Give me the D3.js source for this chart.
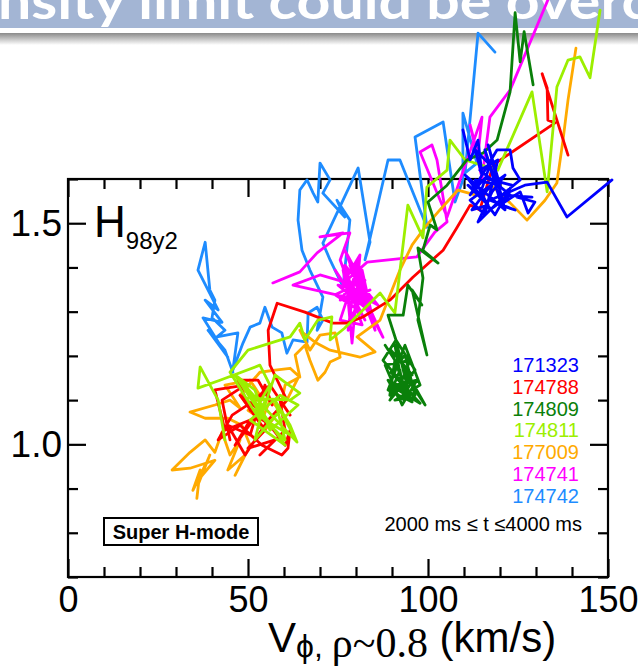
<!DOCTYPE html>
<html>
<head>
<meta charset="utf-8">
<script src="https://cdn.jsdelivr.net/npm/d3@7"></script>
<style>
  html, body { margin: 0; padding: 0; background: #fff; }
  svg { display: block; }
</style>
</head>
<body>
<svg id="chart" width="638" height="672"></svg>
<script>
// ---- data: toroidal rotation (km/s) vs H98y2 confinement factor, per shot ----
const xTickValues = [0, 50, 100, 150];
const yTickValues = [1.0, 1.5];
const shots = ["171323", "174788", "174809", "174811", "177009", "174741", "174742"];
const shotColors = ["#0000ff", "#ff0000", "#0a800a", "#9cef00", "#ffaa00", "#ff00ff", "#1e8cff"];

const s177009 = [[35.8,0.878],[36.7,0.942],[34.7,0.896],[38.1,0.953],[36.1,0.908],[39.4,0.976],[36.7,0.924],[40.8,0.964],[33.9,0.946],[28.9,0.942],[33.9,0.982],[38.1,1.010],[40.8,0.982],[42.8,1.028],[45.0,0.976],[47.8,1.010],[44.4,0.942],[49.2,0.976],[46.4,0.930],[50.6,0.998],[48.3,1.043],[44.4,1.059],[38.1,1.059],[33.9,1.073],[40.8,1.089],[45.0,1.100],[47.8,1.082],[43.6,1.134],[50.6,1.145],[53.3,1.111],[50.0,1.077],[53.9,1.055],[56.1,1.100],[58.9,1.077],[60.3,1.134],[63.9,1.150],[60.8,1.100],[54.7,1.032],[51.9,1.066],[47.8,1.111],[53.3,1.163],[57.5,1.168],[61.7,1.172],[64.4,1.152],[63.1,1.202],[65.8,1.224],[67.2,1.190],[69.4,1.145],[71.4,1.163],[72.8,1.186],[75.6,1.197],[74.2,1.252],[70.0,1.247],[67.2,1.213],[64.4,1.258],[68.6,1.231],[72.8,1.213],[81.1,1.197],[85.3,1.209],[80.3,1.243],[86.7,1.281],[92.2,1.394],[95.6,1.451],[99.2,1.491],[103.3,1.530],[108.3,1.575],[113.1,1.564],[118.1,1.582],[122.8,1.546],[127.5,1.507],[132.5,1.552],[135.8,1.591],[137.5,1.688],[138.9,1.779],[141.1,1.896]];

const s174788 = [[45.0,1.010],[42.8,1.100],[49.2,1.134],[40.8,1.123],[43.6,1.032],[50.6,1.055],[46.4,0.998],[53.3,1.077],[47.8,1.111],[54.7,1.032],[50.0,0.991],[57.5,1.010],[53.3,0.976],[60.3,1.032],[58.9,1.100],[61.7,1.066],[56.1,1.134],[51.9,1.100],[45.6,1.066],[41.7,1.010],[47.8,1.043],[53.9,0.998],[59.4,0.976],[61.1,0.991],[61.7,1.032],[60.3,0.998],[56.1,1.043],[50.6,1.077],[47.2,1.145],[52.8,1.145],[56.7,1.089],[54.7,1.134],[50.6,1.021],[44.4,1.043],[49.2,0.976],[55.6,1.055],[60.8,1.100],[56.1,1.179],[55.6,1.258],[58.1,1.319],[65.8,1.299],[73.6,1.274],[77.5,1.274],[81.9,1.288],[89.4,1.326],[95.8,1.378],[104.2,1.439],[108.1,1.491],[111.7,1.541],[114.4,1.530],[118.1,1.632],[135.3,1.727],[133.3,1.733],[133.1,1.806],[131.7,1.838],[138.9,1.654]];

const s174811 = [[43.6,1.010],[41.7,1.100],[36.7,1.175],[36.1,1.127],[42.2,1.145],[53.3,1.179],[56.1,1.134],[51.9,1.077],[60.3,1.010],[57.5,1.100],[61.7,1.043],[63.6,1.005],[53.9,1.089],[47.8,1.145],[60.3,0.998],[50.6,1.055],[58.9,1.111],[63.9,1.089],[56.1,1.032],[51.9,1.123],[46.4,1.157],[54.7,1.055],[63.1,1.014],[58.9,1.077],[51.9,1.010],[54.7,1.100],[50.0,1.105],[61.7,1.100],[64.4,1.116],[57.5,1.157],[53.3,1.055],[45.0,1.163],[50.0,1.213],[61.7,1.243],[64.4,1.274],[65.8,1.236],[69.4,1.281],[73.3,1.288],[72.8,1.236],[76.9,1.263],[86.7,1.342],[90.8,1.297],[94.4,1.541],[98.6,1.467],[99.7,1.582],[105.3,1.620],[106.1,1.688],[110.3,1.643],[119.4,1.620],[128.9,1.797],[133.1,1.571],[135.8,1.808],[138.9,1.869],[142.2,1.876],[145.0,1.829],[147.8,1.982]];

const s174809 = [[88.1,1.224],[90.8,1.190],[89.4,1.111],[92.2,1.168],[93.6,1.100],[90.8,1.224],[95.0,1.134],[92.2,1.100],[88.9,1.145],[96.4,1.111],[93.6,1.202],[89.7,1.163],[97.8,1.093],[91.7,1.123],[95.0,1.190],[88.1,1.179],[92.8,1.089],[96.9,1.145],[90.8,1.134],[94.4,1.111],[89.7,1.213],[95.6,1.157],[92.2,1.190],[99.2,1.089],[93.6,1.157],[89.4,1.100],[96.4,1.168],[91.1,1.236],[95.0,1.105],[90.8,1.100],[97.8,1.134],[93.6,1.224],[88.9,1.123],[95.6,1.096],[92.2,1.145],[87.5,1.190],[91.1,1.236],[88.9,1.292],[93.1,1.292],[94.4,1.360],[98.3,1.315],[95.6,1.349],[99.7,1.202],[97.2,1.281],[98.6,1.376],[97.2,1.444],[102.8,1.410],[98.6,1.439],[100.6,1.496],[102.5,1.485],[100.0,1.548],[105.3,1.586],[110.8,1.643],[115.3,1.659],[119.2,1.688],[122.8,1.797],[124.2,1.976],[125.6,1.865],[126.7,1.933],[129.2,1.813]];

const s174741 = [[56.9,1.365],[64.4,1.390],[69.2,1.433],[76.4,1.478],[70.0,1.469],[78.3,1.478],[75.6,1.417],[79.7,1.326],[74.2,1.394],[82.5,1.281],[76.9,1.371],[81.1,1.428],[78.9,1.229],[77.8,1.326],[83.9,1.349],[75.6,1.326],[81.7,1.394],[85.3,1.258],[78.3,1.405],[87.5,1.242],[80.6,1.349],[75.0,1.360],[83.3,1.304],[76.9,1.439],[84.4,1.326],[79.7,1.383],[75.6,1.281],[81.7,1.270],[78.3,1.349],[86.1,1.315],[76.9,1.405],[80.6,1.304],[74.2,1.338],[82.5,1.371],[78.9,1.286],[76.4,1.394],[83.9,1.292],[80.3,1.417],[77.8,1.258],[81.1,1.326],[62.5,1.360],[70.0,1.383],[76.9,1.367],[83.1,1.412],[96.9,1.424],[101.9,1.480],[105.3,1.503],[102.5,1.643],[101.1,1.677],[97.8,1.661],[105.3,1.514],[115.0,1.740],[113.9,1.654],[111.7,1.722],[115.0,1.602],[117.2,1.740],[122.8,1.801],[133.3,2.005]];

const s174742 = [[45.8,1.163],[43.6,1.213],[38.9,1.258],[44.4,1.197],[37.5,1.286],[42.8,1.276],[38.1,1.326],[41.7,1.304],[36.1,1.394],[38.1,1.457],[39.4,1.349],[40.8,1.326],[40.0,1.286],[43.6,1.258],[41.4,1.243],[47.2,1.252],[45.8,1.168],[48.6,1.229],[50.6,1.265],[53.3,1.274],[54.7,1.310],[56.7,1.265],[59.4,1.252],[60.8,1.206],[62.5,1.236],[66.4,1.231],[66.7,1.297],[69.2,1.310],[70.8,1.281],[69.2,1.258],[70.8,1.333],[67.2,1.394],[65.0,1.439],[63.9,1.507],[64.4,1.575],[66.4,1.598],[68.1,1.568],[69.4,1.548],[70.0,1.636],[72.8,1.598],[70.8,1.568],[76.9,1.514],[74.7,1.552],[78.3,1.507],[76.4,1.356],[72.8,1.417],[70.8,1.455],[80.6,1.625],[83.9,1.457],[82.5,1.417],[88.9,1.643],[92.2,1.643],[99.7,1.491],[96.4,1.695],[104.2,1.729],[107.5,1.548],[109.7,1.598],[109.7,1.749],[113.6,1.636],[110.3,1.614],[113.9,1.930],[118.6,1.887]];

const s171323 = [[109.7,1.711],[111.7,1.643],[113.9,1.688],[115.0,1.609],[113.1,1.666],[117.2,1.632],[114.4,1.564],[111.1,1.586],[116.7,1.541],[112.2,1.530],[118.6,1.598],[115.8,1.666],[120.0,1.552],[113.9,1.503],[117.8,1.571],[121.4,1.609],[111.7,1.552],[115.8,1.519],[119.4,1.643],[114.4,1.620],[122.8,1.564],[117.2,1.530],[113.1,1.598],[120.0,1.586],[116.7,1.677],[121.4,1.530],[115.0,1.575],[110.3,1.609],[118.6,1.519],[123.3,1.586],[115.8,1.602],[111.7,1.564],[119.2,1.666],[122.8,1.666],[123.6,1.625],[125.6,1.598],[120.6,1.564],[128.9,1.559],[124.7,1.559],[129.7,1.548],[127.8,1.523],[125.6,1.571],[120.0,1.541],[124.2,1.530],[117.2,1.552],[126.9,1.586],[133.1,1.593],[138.6,1.514],[151.1,1.598]];

// drawing order (back to front)
const drawOrder = [
  { id: "174742", pts: s174742 },
  { id: "174741", pts: s174741 },
  { id: "177009", pts: s177009 },
  { id: "174788", pts: s174788 },
  { id: "174811", pts: s174811 },
  { id: "174809", pts: s174809 },
  { id: "171323", pts: s171323 }
];

// ---- layout ----
const svg = d3.select("#chart");
const W = 638, H = 672;
const box = { left: 68, right: 608, top: 179, bottom: 577 };

const x = d3.scaleLinear().domain([0, 150]).range([box.left, box.right]);
const y = d3.scaleLinear().domain([0.7, 1.6]).range([box.bottom, box.top]);
const color = d3.scaleOrdinal().domain(shots).range(shotColors);

// slide title banner
const shadow = svg.append("defs").append("linearGradient")
  .attr("id", "shade").attr("x1", 0).attr("y1", 0).attr("x2", 0).attr("y2", 1);
shadow.append("stop").attr("offset", "0%").attr("stop-color", "#8a8a8a");
shadow.append("stop").attr("offset", "100%").attr("stop-color", "#ffffff");
svg.append("rect").attr("x", 0).attr("y", 0).attr("width", W).attr("height", 28).attr("fill", "#a3b5d4");
svg.append("rect").attr("x", 0).attr("y", 33).attr("width", W).attr("height", 12).attr("fill", "url(#shade)");
svg.append("text")
  .attr("x", -2).attr("y", 19)
  .attr("textLength", 652).attr("lengthAdjust", "spacingAndGlyphs")
  .attr("font-family", "Lato, 'Open Sans', sans-serif").attr("font-weight", 700)
  .attr("font-size", 50).attr("fill", "#ffffff")
  .text("nsity limit could be overc");

// frame
svg.append("rect")
  .attr("x", box.left).attr("y", box.top)
  .attr("width", box.right - box.left).attr("height", box.bottom - box.top)
  .attr("fill", "none").attr("stroke", "#000").attr("stroke-width", 2.2);

const minorX = d3.range(0, 151, 10).filter(v => v % 50 !== 0);
const minorY = d3.range(0.7, 1.6001, 0.1).map(v => +v.toFixed(1)).filter(v => v !== 1.0 && v !== 1.5);

function styleAxis(g) {
  g.select(".domain").remove();
  g.selectAll(".tick line").attr("stroke", "#000").attr("stroke-width", 2.2);
  g.selectAll(".tick text").attr("fill", "#000")
    .attr("font-family", "'Liberation Sans', Arial, Helvetica, sans-serif");
}

// bottom
svg.append("g").attr("transform", `translate(0,${box.bottom})`)
  .call(d3.axisBottom(x).tickValues(xTickValues).tickSize(-18).tickPadding(9).tickFormat(d3.format("d")))
  .call(styleAxis).call(g => g.selectAll("text").attr("font-size", 36));
svg.append("g").attr("transform", `translate(0,${box.bottom})`)
  .call(d3.axisBottom(x).tickValues(minorX).tickSize(-10).tickFormat(""))
  .call(styleAxis);
// top
svg.append("g").attr("transform", `translate(0,${box.top})`)
  .call(d3.axisTop(x).tickValues(xTickValues).tickSize(-18).tickFormat(""))
  .call(styleAxis);
svg.append("g").attr("transform", `translate(0,${box.top})`)
  .call(d3.axisTop(x).tickValues(minorX).tickSize(-10).tickFormat(""))
  .call(styleAxis);
// left
svg.append("g").attr("transform", `translate(${box.left},0)`)
  .call(d3.axisLeft(y).tickValues(yTickValues).tickSize(-18).tickPadding(6).tickFormat(d3.format(".1f")))
  .call(styleAxis).call(g => g.selectAll("text").attr("font-size", 37));
svg.append("g").attr("transform", `translate(${box.left},0)`)
  .call(d3.axisLeft(y).tickValues(minorY).tickSize(-10).tickFormat(""))
  .call(styleAxis);
// right
svg.append("g").attr("transform", `translate(${box.right},0)`)
  .call(d3.axisRight(y).tickValues(yTickValues).tickSize(-18).tickFormat(""))
  .call(styleAxis);
svg.append("g").attr("transform", `translate(${box.right},0)`)
  .call(d3.axisRight(y).tickValues(minorY).tickSize(-10).tickFormat(""))
  .call(styleAxis);

// H98y2 label
const hl = svg.append("text").attr("x", 94).attr("y", 237)
  .attr("font-family", "'Liberation Sans', Arial, sans-serif").attr("fill", "#000");
hl.append("tspan").attr("font-size", 44).text("H");
hl.append("tspan").attr("font-size", 24).attr("dy", 12).text("98y2");

// trajectories
const line = d3.line().x(d => x(d[0])).y(d => y(d[1]));
svg.append("g").selectAll("path")
  .data(drawOrder).join("path")
  .attr("d", d => line(d.pts))
  .attr("fill", "none")
  .attr("stroke", d => color(d.id))
  .attr("stroke-width", 2.8)
  .attr("stroke-linejoin", "round")
  .attr("stroke-linecap", "round");

// legend
svg.append("g").selectAll("text")
  .data(shots).join("text")
  .attr("x", 579).attr("y", (d, i) => 372 + i * 21.8)
  .attr("text-anchor", "end")
  .attr("font-family", "'Liberation Sans', Arial, sans-serif")
  .attr("font-size", 20)
  .attr("fill", d => color(d))
  .text(d => d);

svg.append("text").attr("x", 582).attr("y", 531)
  .attr("text-anchor", "end")
  .attr("font-family", "'Liberation Sans', Arial, sans-serif")
  .attr("font-size", 20).attr("fill", "#000")
  .text("2000 ms \u2264 t \u22644000 ms");

// Super H-mode tag
svg.append("rect").attr("x", 104).attr("y", 518).attr("width", 154).attr("height", 27)
  .attr("fill", "#fff").attr("stroke", "#000").attr("stroke-width", 2);
svg.append("text").attr("x", 181).attr("y", 539)
  .attr("text-anchor", "middle")
  .attr("font-family", "'Liberation Sans', Arial, sans-serif")
  .attr("font-weight", 700).attr("font-size", 20).attr("fill", "#000")
  .text("Super H-mode");

// x-axis title
const xt = svg.append("text").attr("x", 268).attr("y", 652)
  .attr("font-family", "'Liberation Sans', Arial, sans-serif").attr("font-size", 42).attr("fill", "#000");
xt.append("tspan").text("V");
xt.append("tspan").attr("font-size", 32).attr("dy", 5).text("\u03d5, ");
xt.append("tspan").attr("font-family", "'Liberation Serif', 'Times New Roman', serif").attr("font-size", 42).text("\u03c1~0.8");
xt.append("tspan").attr("dy", -5).text(" (km/s)");
</script>
</body>
</html>
